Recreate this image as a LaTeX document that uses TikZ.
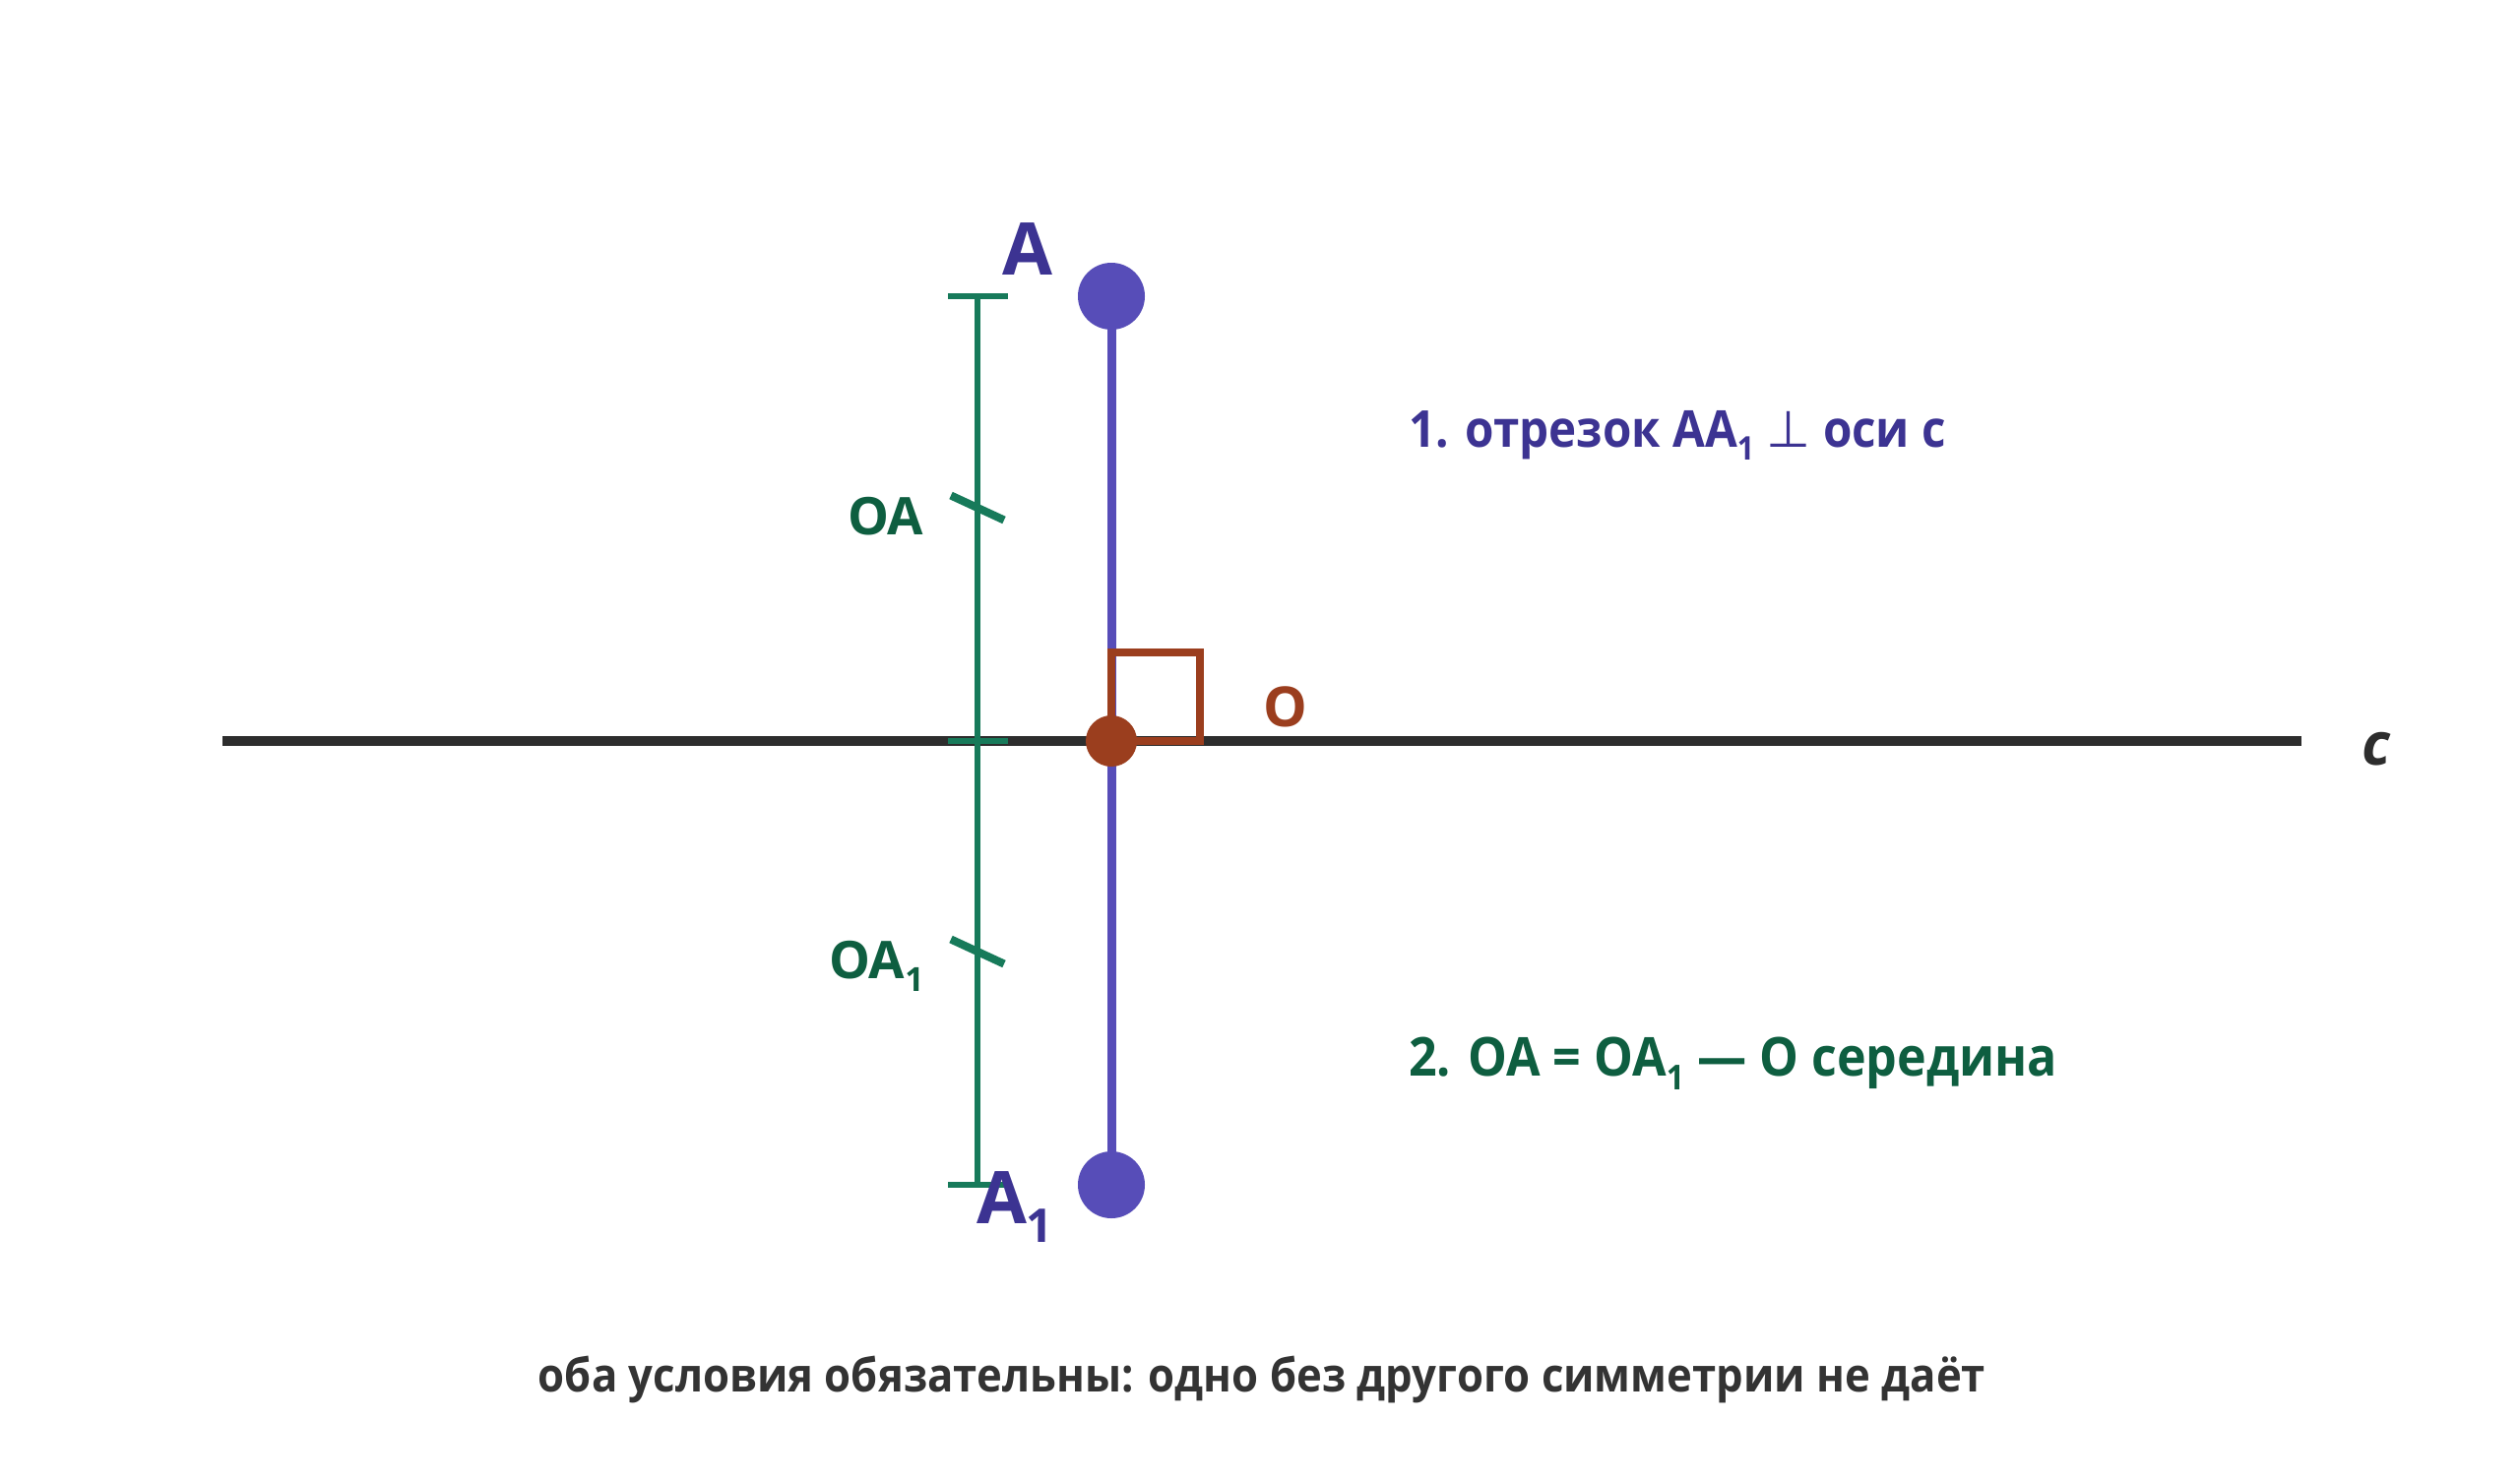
\documentclass[tikz,border=0pt]{standalone}
\usepackage{fontspec}
\setmainfont{Open Sans}
\newfontfamily\condfont{Open Sans}[FakeStretch=0.92]
\newfontfamily\symfont{DejaVu Sans}
\newcommand{\lowone}[1]{\raisebox{-0.26em}{\fontsize{0.64em}{0.8em}\selectfont #1}}
\definecolor{axisgray}{HTML}{2D2D2D}
\definecolor{segblue}{HTML}{574DB8}
\definecolor{txtpurple}{HTML}{3C3392}
\definecolor{gline}{HTML}{177A5A}
\definecolor{gtext}{HTML}{0E5E40}
\definecolor{brownO}{HTML}{9B3E1E}
\definecolor{bottomgray}{HTML}{333333}
\tikzset{
  lbl/.style={inner sep=0pt, outer sep=0pt, font=\bfseries},
  axisline/.style={draw=axisgray, line width=2.85pt},
  segline/.style={draw=segblue, line width=2.56pt},
  gmeasure/.style={draw=gline, line width=1.56pt},
  gslash/.style={draw=gline, line width=2.3pt},
  rightangle/.style={draw=brownO, line width=2pt},
}
\begin{document}
\begin{tikzpicture}[x=0.01cm,y=-0.01cm]
\useasboundingbox[fill=white] (0,0) rectangle (2560,1506);
% coordinates
\coordinate (axL) at (226,753);
\coordinate (axR) at (2338,753);
\coordinate (Apt) at (1129,301);
\coordinate (A1pt) at (1129,1204);
\coordinate (Opt) at (1129,753);
\coordinate (gT) at (993,301);
\coordinate (gM) at (993,753);
\coordinate (gB) at (993,1204);
\coordinate (sq) at (1219,663);
% axis
\draw[axisline] (axL) -- (axR);
% green measure
\draw[gmeasure] (gT) -- (gB);
\draw[gmeasure] ([shift={(-30,0)}]gT) -- ([shift={(31,0)}]gT);
\draw[gmeasure] ([shift={(-30,0)}]gM) -- ([shift={(31,0)}]gM);
\draw[gmeasure] ([shift={(-30,0)}]gB) -- ([shift={(31,0)}]gB);
\coordinate (s1) at (993,516);
\coordinate (s2) at (993,967);
\draw[gslash] ([shift={(-27,-12.5)}]s1) -- ([shift={(27,12.5)}]s1);
\draw[gslash] ([shift={(-27,-12.5)}]s2) -- ([shift={(27,12.5)}]s2);
% segment AA1
\draw[segline] (Apt) -- (A1pt);
% right angle
\draw[rightangle] (Opt) rectangle (sq);
% points
\fill[segblue] (Apt) circle (34);
\fill[segblue] (A1pt) circle (34);
\fill[brownO] (Opt) circle (26);
% labels
\node[lbl, anchor=base, text=txtpurple, font=\bfseries\fontsize{21}{24}\selectfont] (labA) at (1044,279) {A};
\node[lbl, anchor=base west, text=txtpurple, font=\bfseries\fontsize{21}{24}\selectfont] (labA1) at (992,1243) {A\lowone{1}};
\node[lbl, anchor=base west, text=brownO, font=\bfseries\fontsize{16}{19}\selectfont] (labO) at (1283,738) {O};
\node[lbl, anchor=base west, text=gtext, font=\bfseries\fontsize{15}{18}\selectfont] (labOA) at (861,543) {OA};
\node[lbl, anchor=base west, text=gtext, font=\bfseries\fontsize{15}{18}\selectfont] (labOA1) at (842,994) {OA\lowone{1}};
\node[lbl, anchor=base west, text=axisgray, font=\bfseries\itshape\fontsize{17}{20}\selectfont] (labc) at (2399,777) {c};
\node[lbl, anchor=base west, text=txtpurple, font=\condfont\bfseries\fontsize{14.7}{18}\selectfont] (cond1) at (1431,454) {1. отрезок AA\lowone{1} {\symfont\mdseries ⊥} оси c};
\node[lbl, anchor=base west, text=gtext, font=\condfont\bfseries\fontsize{15.5}{18}\selectfont] (cond2) at (1431,1093) {2. OA = OA\lowone{1} — O середина};
\node[lbl, anchor=base, text=bottomgray, font=\condfont\bfseries\fontsize{13.5}{17}\selectfont] (note) at (1282,1414) {оба условия обязательны: одно без другого симметрии не даёт};
\end{tikzpicture}
\end{document}
